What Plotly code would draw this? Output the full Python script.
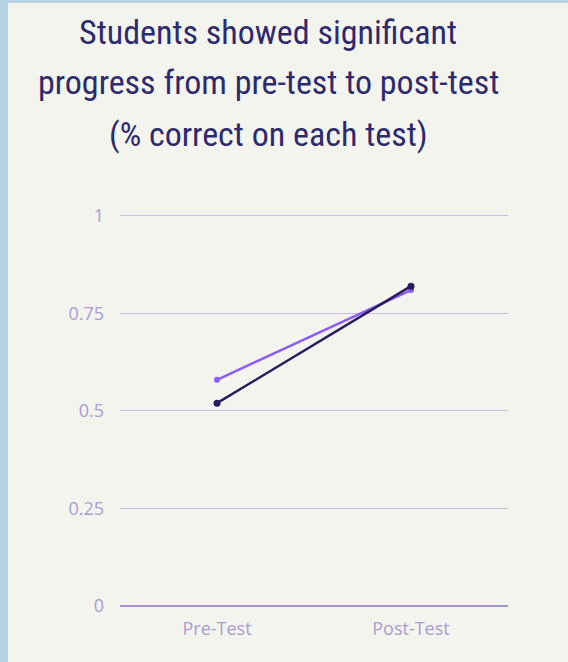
import plotly.graph_objects as go

categories = ["Pre-Test", "Post-Test"]
series_a = [0.58, 0.81]   # light purple
series_b = [0.52, 0.82]   # dark navy
y_ticks = [0, 0.25, 0.5, 0.75, 1]
y_tick_labels = ["0", "0.25", "0.5", "0.75", "1"]
title_lines = ["Students showed significant",
               "progress from pre-test to post-test",
               "(% correct on each test)"]

W, H = 568, 662
L, R, T, B = 120, 60, 214, 56
PW, PH = W - L - R, H - T - B

fig = go.Figure()
fig.add_trace(go.Scatter(x=categories, y=series_a, mode="lines+markers",
                         line=dict(color="#8b5cf6", width=2.5),
                         marker=dict(size=6, color="#8b5cf6"), name="A"))
fig.add_trace(go.Scatter(x=categories, y=series_b, mode="lines+markers",
                         line=dict(color="#2a1b5e", width=2.5),
                         marker=dict(size=7, color="#2a1b5e"), name="B"))

title_font = dict(family="Roboto Condensed, Liberation Sans Narrow, DejaVu Sans Condensed, sans-serif",
                  size=34, color="#2d2a6e")
line_centers = [32, 82, 134]  # pixel centers from top
annotations = []
for txt, cy in zip(title_lines, line_centers):
    annotations.append(dict(text=txt, xref="paper", yref="paper",
                            x=(268 - L) / PW, y=1 + (T - cy) / PH,
                            xanchor="center", yanchor="middle", showarrow=False,
                            font=title_font))

tick_font = dict(family="Open Sans, sans-serif", size=18, color="#aa9dd0")

fig.update_layout(
    width=W, height=H,
    margin=dict(l=L, r=R, t=T, b=B, pad=0),
    paper_bgcolor="#b5d4e6",
    plot_bgcolor="rgba(0,0,0,0)",
    showlegend=False,
    annotations=annotations,
    shapes=[dict(type="rect", xref="paper", yref="paper", layer="below",
                 x0=-(L - 8) / PW, x1=1 + R / PW,
                 y0=-B / PH, y1=1 + (T - 3) / PH,
                 fillcolor="#f4f4ef", line=dict(width=0))],
    xaxis=dict(range=[-0.5, 1.5], showgrid=False, zeroline=False, showline=False,
               ticks="", tickfont=tick_font, ticklabelstandoff=10),
    yaxis=dict(range=[0, 1.005], tickvals=y_ticks, ticktext=y_tick_labels,
               showgrid=True, gridcolor="#cbbce7", gridwidth=1.2,
               zeroline=True, zerolinecolor="#a790d2", zerolinewidth=2,
               showline=False, ticks="", tickfont=tick_font,
               ticklabelstandoff=15),
)

fig.write_html("out.html", config={"displayModeBar": False},
               post_script="document.body.style.margin='0';")
